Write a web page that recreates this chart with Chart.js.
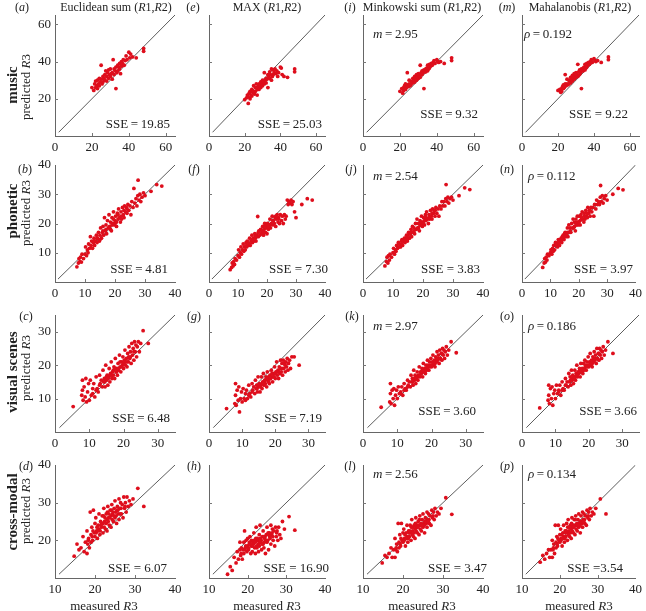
<!DOCTYPE html>
<html>
<head>
<meta charset="utf-8">
<script src="https://cdn.jsdelivr.net/npm/chart.js@4/dist/chart.umd.min.js"></script>
<style>
  body { margin: 0; background: #fff; }
  #wrap { position: relative; width: 646px; height: 611px; overflow: hidden;
          font-family: 'Liberation Serif', 'Times New Roman', serif; color: #222; }
  #wrap canvas { position: absolute; left: 0; top: 0; }
  .t { position: absolute; white-space: nowrap; font-size: 12px; line-height: 1; }
  .big { font-size: 15px; font-weight: bold; }
  .tick { font-size: 13px; }
</style>
</head>
<body>
<div id="wrap"></div>
<script>
// ---- labels ----
var rowNames = ['music', 'phonetic', 'visual scenes', 'cross-modal'];
var modelNames = ['Euclidean sum', 'MAX', 'Minkowski sum', 'Mahalanobis'];
var letters = [['a', 'e', 'i', 'm'], ['b', 'f', 'j', 'n'], ['c', 'g', 'k', 'o'], ['d', 'h', 'l', 'p']];
var sseValues = [['19.85', '25.03', '9.32', '9.22'],
                 ['4.81', '7.30', '3.83', '3.97'],
                 ['6.48', '7.19', '3.60', '3.66'],
                 ['6.07', '16.90', '3.47', '3.54']];
var mValues = ['2.95', '2.54', '2.97', '2.56'];
var rhoValues = ['0.192', '0.112', '0.186', '0.134'];

// ---- axes ----
var axisRange = [[0, 65], [0, 40], [0, 35], [10, 40]];
var xTicks = [[0, 20, 40, 60], [0, 10, 20, 30, 40], [0, 10, 20, 30], [10, 20, 30, 40]];
var yTicks = [[20, 40, 60], [10, 20, 30, 40], [10, 20, 30], [20, 30, 40]];
var diagonal = [[2, 65], [1, 40], [1.3, 35], [11, 40]];

// ---- music ----
var musicX = [20, 21, 21.5, 22, 22, 22.5, 23, 23, 23.5, 24,
  24, 24.5, 25, 25, 25.5, 26, 26, 26.5, 27, 27,
  27.5, 28, 28, 28.5, 29, 29, 29.5, 30, 30, 30.5,
  31, 31, 31.5, 32, 32, 32.5, 33, 33, 33.5, 34,
  34, 34.5, 35, 35, 35.5, 36, 36, 36.5, 37, 37.5,
  38, 38.5, 39, 40, 40.5, 41, 42, 44, 48, 48];
var musicEuclid = [26, 24.5, 28, 26, 29.5, 27, 25.5, 30, 28, 31,
  27, 29, 38, 30.5, 28, 32, 29, 31, 33, 30,
  35, 32, 29.5, 34, 31, 35.5, 33, 36, 32, 33.5,
  34, 30.5, 41, 36, 33, 35, 37, 25.5, 34, 38,
  35, 37, 39, 36, 33.5, 40, 37.5, 39, 41, 38,
  40.5, 43, 41, 45, 42, 44, 42.5, 42, 47, 45.5];
var musicMax = [19.5, 20.5, 22, 17.5, 21, 23, 20, 24, 22, 25,
  21.5, 23.5, 27, 24, 22.5, 26, 24, 28, 25, 22,
  26.5, 28, 25, 27, 29, 26, 28, 27, 30, 29,
  34, 28, 30, 31, 28.5, 30.5, 33, 26, 32, 34.5,
  31, 33, 36, 30, 32, 35.5, 33, 34, 36, 33.5,
  35, 32, 34, 37, 36.5, 33, 32, 31.5, 36, 34.5];
var musicMinkowski = [24, 25.5, 23, 26, 24.5, 27, 25, 28, 26, 34,
  27.5, 26.5, 30, 28, 27, 29.5, 27.5, 29, 31, 28.5,
  30, 32, 29, 31, 33, 30, 32, 33.5, 31, 32.5,
  38, 31.5, 34, 35, 33, 34, 35.5, 25.5, 34.5, 36,
  34.5, 36.5, 38, 35, 36, 38.5, 36.5, 37.5, 39, 38,
  39.5, 40.5, 39, 41, 40, 39.5, 40, 39, 42, 40.5];
var musicMahal = [24.5, 25, 23.5, 25.5, 24, 26.5, 25.5, 27.5, 26, 33,
  28, 27, 30.5, 28, 27.5, 30, 28, 29.5, 31.5, 28.5,
  30.5, 32.5, 29.5, 31, 33.5, 30.5, 32, 34, 31.5, 33,
  38.5, 32, 34.5, 35.5, 33, 34, 36, 25.5, 35, 36.5,
  35, 37, 38.5, 35.5, 36.5, 39, 37, 38, 39.5, 38.5,
  40, 41, 39.5, 41.5, 40.5, 40, 40.5, 39.5, 42.5, 41];

// ---- phonetic ----
var phoneticX = [7.3, 7.8, 8, 8.3, 8.5, 8.8, 9, 9.5, 10, 10.2,
  10.5, 10.8, 11, 11.2, 11.5, 11.8, 12, 12.2, 12.5, 12.8,
  13, 13.2, 13.5, 13.8, 14, 14.2, 14.5, 14.8, 15, 15.2,
  15.5, 15.8, 16, 16.2, 16.5, 16.8, 17, 17.2, 17.5, 17.8,
  18, 18.2, 18.5, 18.8, 19, 19.2, 19.5, 19.8, 20, 20.2,
  20.5, 20.8, 21, 21.2, 21.5, 21.8, 22, 22.2, 22.5, 22.8,
  23, 23.2, 23.5, 23.8, 24, 24.3, 24.6, 25, 25.3, 25.6,
  26, 26.3, 26.6, 27, 27.3, 27.6, 28, 28.3, 28.6, 29,
  29.5, 30, 19.5, 20, 21, 18.5, 16, 14, 22, 24,
  20.5, 17, 13, 15, 19, 23, 27.7, 32, 33.9, 35.6];
var phoneticEuclid = [5.2, 6.5, 8, 7, 8.5, 6.8, 9.5, 8, 9.5, 12,
  9, 11, 10, 13, 11.5, 15.5, 12.5, 14, 11.5, 13.5,
  15, 12.5, 14, 16, 13.5, 15, 17, 14, 16, 18.5,
  15, 17, 19, 16, 22, 17.5, 19.5, 16.5, 21, 18.5,
  23, 19, 20.5, 17.5, 22, 20, 24, 19.5, 21, 22.5,
  19, 23.5, 21.5, 25, 22, 20.5, 24, 21.5, 25.5, 23,
  22, 26, 24, 25.5, 23.5, 26.5, 24.5, 26, 23, 27.5,
  25.5, 32, 27, 28.5, 26, 29.5, 28, 30, 27.5, 29,
  30.5, 29.5, 21.5, 20, 23, 18, 17.5, 15, 22.5, 25,
  20.5, 18, 14, 14.5, 19.5, 24.5, 34.8, 31, 33.3, 32.8];
var phoneticMax = [4.2, 5, 6.5, 5.5, 7, 6, 8, 7.5, 9, 11,
  8.5, 10, 12, 9.5, 11, 13, 10.5, 12, 11, 13.5,
  12, 14, 12.5, 13, 15, 12.5, 14, 16, 13.5, 15,
  14, 16.5, 15, 14, 16, 22.4, 15.5, 17.5, 16, 18,
  16.5, 17.5, 19, 16, 18, 20, 17, 18.5, 16.5, 20,
  18, 19.5, 21.5, 18.5, 20, 22.5, 19.5, 21, 20, 22,
  19, 21.5, 23, 20.5, 22, 20, 23, 21, 22.5, 20,
  23, 21.5, 22.5, 28, 26.5, 27.5, 27, 28, 26.5, 27.5,
  24, 22, 19, 19.5, 19.5, 17.5, 15.5, 13, 21, 21.5,
  19, 17, 12.5, 14.5, 17, 22.5, 27, 26.5, 28.5, 28];
var phoneticMinkowski = [5.5, 7, 8.5, 6.5, 9, 7.5, 9.5, 8.5, 10, 11.5,
  9.5, 11, 10.5, 12.5, 11.5, 13.5, 12, 13, 12, 14,
  14.5, 12.5, 14, 15, 13.5, 15, 16, 14, 16, 17,
  15, 16.5, 18, 15.5, 19, 17, 18.5, 16.5, 20, 18,
  21.5, 18.5, 20, 17.5, 21, 19.5, 22.5, 19, 20.5, 22,
  19.5, 23, 21, 24, 21.5, 20, 23, 21.5, 24.5, 22.5,
  21.5, 25, 23.5, 24.5, 22.5, 25.5, 23.5, 25, 22.5, 26,
  25, 27.5, 26, 27.5, 26, 28.5, 27.5, 29, 27, 28.5,
  29, 28, 20.5, 20, 22, 18.5, 17, 14.5, 22, 24.5,
  21, 17.5, 13, 15, 19.5, 23.5, 33.3, 29.5, 32.2, 31.6];
var phoneticMahal = [5, 6.5, 8, 6.8, 8.5, 7.5, 9.5, 9, 10, 11,
  9.5, 11.5, 10.5, 12.5, 11, 13.5, 12.5, 13, 12, 14.5,
  14, 12.5, 14.5, 15, 13.5, 15.5, 16, 14.5, 16.5, 17,
  15.5, 16.5, 18.5, 15.5, 19.5, 17, 18.5, 17, 20, 18.5,
  21.5, 18.5, 20.5, 17.5, 21.5, 19.5, 22.5, 19.5, 20.5, 22.5,
  19.5, 23, 21.5, 24, 21.5, 20.5, 23.5, 21.5, 24.5, 22.5,
  22, 25.5, 23.5, 24.5, 22.5, 25.5, 24, 25.5, 22.5, 26.5,
  25, 28, 26.5, 27.5, 26.5, 29, 27.5, 29.5, 27, 28.5,
  29.5, 28, 20.5, 20.5, 22, 19, 17, 14.5, 22.5, 24.5,
  21, 17.5, 13.5, 15.5, 20, 23.5, 33, 30, 32, 31.5];

// ---- visual scenes ----
var visualX = [5.3, 7.8, 8, 8, 8.2, 8.5, 8.8, 9, 9.2, 9.5,
  9.8, 10, 10.3, 10.6, 11, 11.3, 11.6, 12, 12.3, 12.6,
  13, 13.2, 13.5, 13.8, 14, 14.2, 14.4, 14.6, 14.8, 15,
  15.2, 15.4, 15.6, 15.8, 16, 16.2, 16.4, 16.6, 16.8, 17,
  17.2, 17.4, 17.6, 17.8, 18, 18.2, 18.4, 18.6, 18.8, 19,
  19.2, 19.4, 19.6, 19.8, 20, 20.2, 20.4, 20.6, 20.8, 21,
  21.2, 21.4, 21.6, 21.8, 22, 22.2, 22.4, 22.6, 22.8, 23,
  23.2, 23.4, 23.6, 23.8, 24, 24.3, 24.6, 25, 25.7, 27.2,
  15, 16, 17, 18, 19, 20, 21, 22, 14.5, 15.5,
  16.5, 17.5, 18.5, 19.5, 20.5, 21.5, 13, 12, 11, 23];
var visualEuclid = [7.6, 11, 15.5, 12.5, 9.5, 13.5, 10.5, 16, 9, 12,
  14.5, 9.5, 15.5, 11, 13, 14.5, 10.5, 16.5, 13, 12,
  17, 14.5, 15.5, 13.5, 18.5, 15, 16, 13.5, 20, 15.5,
  17, 14, 16.5, 19, 15, 17.5, 21, 16, 18, 17,
  19.5, 16, 22, 18, 19, 17, 20.5, 18.5, 23, 19.5,
  18, 21, 20, 22.5, 19, 21.5, 24.5, 20, 22, 19.5,
  23.5, 21, 25.5, 22, 24, 20.5, 26.5, 23, 25, 21.5,
  27, 24, 26, 22.5, 25.5, 27, 24, 26.5, 30.3, 26.5,
  16.5, 17, 18.5, 18, 21, 20.5, 21, 22.5, 15, 16,
  17, 19, 19, 19.5, 21, 22.5, 14, 12.5, 11.5, 24];
var visualMax = [7, 8.5, 14.5, 11, 8, 12.5, 9.5, 13.5, 6, 10,
  12, 9, 13, 10, 11.5, 12.5, 10, 14, 11.5, 10.5,
  14.5, 12.5, 13.5, 11.5, 15.5, 13, 14, 12, 16.5, 13.5,
  14.5, 12, 14, 16.5, 13, 15, 17.5, 14, 15.5, 14.5,
  16.5, 13.5, 18, 15.5, 16.5, 14.5, 17, 16, 18.5, 16.5,
  15, 17.5, 16.5, 19.5, 16, 18, 21, 17, 18.5, 16,
  19.5, 17.5, 21.5, 18, 20.5, 17, 21.5, 19, 20.5, 18,
  21, 19.5, 22, 18.5, 20.5, 21.5, 19, 22.5, 22.5, 20,
  14, 14.5, 15.5, 15, 17.5, 17.5, 18, 19, 13, 13.5,
  14.5, 16, 16, 16.5, 18, 19, 12, 11, 9.5, 20];
var visualMinkowski = [7.4, 9, 14.5, 11.5, 8.5, 12.5, 10, 13, 8, 11,
  12.5, 10, 13.5, 11.5, 12, 13.5, 11, 14.5, 13, 12.5,
  15.5, 14, 15, 13.5, 17, 15, 16, 14, 18.5, 15.5,
  17, 14.5, 16.5, 18, 15.5, 17, 19.5, 16.5, 18, 17.5,
  19, 16.5, 20.5, 18, 19, 17.5, 20, 19, 21.5, 19.5,
  18.5, 21, 20, 22, 19.5, 21, 23, 20, 21.5, 19.5,
  22.5, 21, 24, 21.5, 23, 20.5, 24.5, 22, 23.5, 21.5,
  25, 23, 24.5, 22, 24, 25.5, 23, 24.5, 27, 23.7,
  16, 16.5, 18, 18, 20, 20, 20.5, 22, 15, 16,
  17, 18.5, 18.5, 19.5, 20.5, 22, 13.5, 12.5, 11.5, 23.5];
var visualMahal = [7.2, 9.5, 14, 11, 8.5, 13, 10, 13.5, 8, 11.5,
  12.5, 10, 14, 11.5, 12.5, 14, 11, 15, 13, 12.5,
  16, 14, 15, 13.5, 17.5, 15, 16.5, 14, 18.5, 15.5,
  17, 14.5, 16.5, 18.5, 15.5, 17.5, 20, 16.5, 18, 17.5,
  19, 16.5, 20.5, 18, 19, 17.5, 20.5, 19, 21.5, 19.5,
  18.5, 21, 20, 22.5, 19.5, 21, 23.5, 20, 21.5, 19.5,
  22.5, 21, 24, 21.5, 23, 20.5, 25, 22, 23.5, 21.5,
  25, 23, 24.5, 22, 24, 25.5, 23, 24.5, 27, 23.5,
  16, 16.5, 18, 18, 20, 20, 20.5, 22, 15.5, 16,
  17, 18.5, 18.5, 19.5, 20.5, 22, 14, 12.5, 12, 23.5];

// ---- cross-modal ----
var crossX = [14.8, 15.5, 16, 16.5, 17, 17.3, 17.6, 18, 18, 18.2,
  18.4, 18.6, 18.8, 19, 19, 19.2, 19.4, 19.6, 19.8, 20,
  20, 20.2, 20.4, 20.6, 20.8, 21, 21, 21.2, 21.4, 21.6,
  21.8, 22, 22, 22.2, 22.4, 22.6, 22.8, 23, 23, 23.2,
  23.4, 23.6, 23.8, 24, 24, 24.2, 24.4, 24.6, 24.8, 25,
  25, 25.2, 25.4, 25.6, 25.8, 26, 26, 26.2, 26.4, 26.6,
  26.8, 27, 27.2, 27.4, 27.6, 27.8, 28, 28.3, 28.6, 29,
  29.5, 30.7, 32.2, 19.5, 20.5, 21.5, 22.5, 23.5, 24.5, 25.5,
  26.5, 22.8, 23.3, 24.3, 25.3, 21.3, 20.3, 18.3, 27.5, 24.7,
  23.7, 22.3, 21.7, 25.7, 26.3, 19.3, 20.7, 24.1, 23.1, 22.1];
var crossEuclid = [15.8, 19, 17.5, 18, 21, 17, 19.5, 16.5, 22.5, 19,
  20.5, 18, 27.5, 21.5, 19.5, 23.5, 20, 28, 22, 24.5,
  21, 26, 22.5, 20.5, 24, 23, 27, 21.5, 25, 23.5,
  26.5, 22, 24.5, 28.5, 25, 23, 27, 25.5, 22.5, 29,
  26, 24, 28, 26.5, 23.5, 29.5, 27, 25, 28.5, 26,
  30.5, 27.5, 24.5, 29, 27, 31, 25.5, 28.5, 30, 27,
  29.5, 26, 31.5, 28.5, 30, 27.5, 31.5, 29, 30.5, 29.5,
  31, 33.8, 29, 22.5, 23.5, 24, 26, 27, 27.5, 28,
  28.5, 24.5, 25, 25.5, 26.5, 22.5, 22, 20, 29, 26.5,
  26, 23.5, 24.5, 28, 27, 21, 22.5, 28, 27.5, 26.5];
var crossMax = [11, 13, 12, 15.5, 14, 17, 15, 17.5, 19.5, 16,
  18, 15, 17.5, 19.5, 16.5, 22.5, 18, 20, 17, 18.5,
  20.5, 17.5, 19, 21, 16.5, 18.5, 20, 17, 19.5, 22,
  18, 16.5, 19.5, 23.5, 18, 20, 17, 21.5, 18.5, 24,
  19.5, 17.5, 21, 19, 22.5, 18, 20.5, 16.5, 21.5, 19.5,
  23.5, 20, 17.5, 22, 20.5, 24, 19, 21.5, 23, 20,
  22.5, 18.5, 23.5, 21, 22.5, 20, 23.5, 21.5, 20.5, 25,
  23, 26.3, 22.7, 18.5, 19.5, 19, 20.5, 20, 21, 21.5,
  21, 19, 20.5, 19.5, 22, 18.5, 18, 16.5, 22, 20,
  19, 18.5, 20, 21, 22, 17.5, 19, 21, 19.5, 20.5];
var crossMinkowski = [14, 16, 15.5, 16.5, 18, 15.5, 17.5, 15.5, 20.5, 17.5,
  19, 17, 24.5, 19.5, 18, 21.5, 18.5, 24.5, 20, 22,
  19.5, 23, 20.5, 18.5, 22, 21, 24, 19.5, 22.5, 21,
  24, 20, 22, 25.5, 22.5, 21, 24, 23, 20.5, 26,
  23.5, 22, 25, 24, 21.5, 26.5, 24, 22.5, 25.5, 23.5,
  27, 24.5, 22, 26, 24.5, 27.5, 23.5, 25.5, 27, 24.5,
  26.5, 24, 28, 26, 27.5, 25.5, 28.5, 26.5, 27.5, 27,
  28.5, 31.3, 26.9, 20.5, 21.5, 22, 23.5, 24, 24.5, 25,
  25.5, 22, 22.5, 23, 24, 20.5, 20, 18, 26.5, 24,
  23.5, 21.5, 22.5, 25, 25, 19, 20.5, 25.5, 24.5, 23.5];
var crossMahal = [14.2, 16, 15, 16.5, 17.5, 15.5, 17.5, 15.5, 20, 17.5,
  19, 16.5, 24, 19.5, 18, 21, 18.5, 24, 20, 21.5,
  19.5, 23, 20.5, 18.5, 22, 21, 24, 19.5, 22.5, 21,
  24.5, 20, 22, 25.5, 22.5, 21, 24, 23, 20.5, 26,
  23.5, 22, 25.5, 24, 21.5, 26.5, 24, 22.5, 25.5, 23.5,
  27, 24.5, 22, 26.5, 24.5, 27.5, 23.5, 25.5, 27, 24.5,
  26.5, 24, 28, 26, 27.5, 25.5, 28.5, 26.5, 27.5, 27,
  28.5, 31, 27, 20.5, 21.5, 22, 23.5, 24, 24.5, 25,
  25.5, 22, 22.5, 23, 24, 20.5, 20, 18, 26.5, 24,
  23.5, 21.5, 22.5, 25, 25, 19, 20.5, 25.5, 24.5, 23.5];

var measured = [musicX, phoneticX, visualX, crossX];
var predicted = [[musicEuclid, musicMax, musicMinkowski, musicMahal],
                 [phoneticEuclid, phoneticMax, phoneticMinkowski, phoneticMahal],
                 [visualEuclid, visualMax, visualMinkowski, visualMahal],
                 [crossEuclid, crossMax, crossMinkowski, crossMahal]];

// ---- layout (pixels) ----
var W = 646, H = 611, YW = 34, XH = 22;
var colL = [55, 209, 363, 522], colR = [175, 325, 483, 639];
var rowT = [15, 165, 315, 465], rowB = [136, 282, 432, 578];
var sseAt = [[[170, 123], [322, 123], [478, 113], [628, 113]],
             [[168, 268], [328, 268], [480, 268], [633, 268]],
             [[170, 417], [322, 417], [476, 410], [637, 410]],
             [[167, 567], [329, 567], [487, 567], [623, 567]]];
var noteY = [33, 175, 325, 473];
var tight = [[1, 1, 1, 0], [1, 0, 0, 0], [1, 1, 1, 1], [0, 0, 0, 0]];

var RED = 'rgb(222,14,28)';
var FONT = "'Liberation Serif', 'Times New Roman', serif";
var wrap = document.getElementById('wrap');

function addText(html, x, y, cls, tf) {
  var d = document.createElement('div');
  d.className = 't ' + (cls || '');
  d.innerHTML = html;
  d.style.left = x + 'px';
  d.style.top = y + 'px';
  d.style.transform = tf || 'translate(-50%,-50%)';
  wrap.appendChild(d);
}

// small inward tick marks, like the original
var tickMarks = {
  id: 'tickMarks',
  afterDraw: function (chart) {
    var ctx = chart.ctx, a = chart.chartArea;
    var xs = chart.scales.x, ys = chart.scales.y;
    ctx.save();
    ctx.strokeStyle = '#777';
    ctx.lineWidth = 1;
    ctx.beginPath();
    ys.ticks.forEach(function (t) {
      var y = Math.round(ys.getPixelForValue(t.value)) + 0.5;
      if (y > a.bottom - 2 || y < a.top + 2) return;
      ctx.moveTo(a.left, y); ctx.lineTo(a.left + 3, y);
    });
    xs.ticks.forEach(function (t) {
      var x = Math.round(xs.getPixelForValue(t.value)) + 0.5;
      if (x < a.left + 2 || x > a.right - 2) return;
      ctx.moveTo(x, a.bottom); ctx.lineTo(x, a.bottom - 3);
    });
    ctx.stroke();
    ctx.restore();
  }
};

function makePanel(r, c) {
  var cv = document.createElement('canvas');
  cv.width = W; cv.height = H;
  wrap.appendChild(cv);
  var xs = measured[r], ys = predicted[r][c];
  var pts = xs.map(function (x, i) { return { x: x, y: ys[i] }; });
  var diag = diagonal[r].map(function (v) { return { x: v, y: v }; });
  var rng = axisRange[r];
  new Chart(cv, {
    type: 'scatter',
    data: {
      datasets: [{
        data: pts,
        pointRadius: 1.9,
        pointBorderWidth: 0,
        pointBackgroundColor: RED,
        backgroundColor: RED
      }, {
        type: 'line',
        data: diag,
        borderColor: '#333',
        borderWidth: 0.8,
        pointRadius: 0,
        fill: false
      }]
    },
    options: {
      responsive: false,
      animation: false,
      devicePixelRatio: 1,
      layout: { padding: { left: colL[c] - YW, right: W - colR[c], top: rowT[r], bottom: H - rowB[r] - XH } },
      plugins: { legend: { display: false }, tooltip: { enabled: false } },
      scales: {
        x: {
          type: 'linear', min: rng[0], max: rng[1],
          afterBuildTicks: function (s) { s.ticks = xTicks[r].map(function (v) { return { value: v }; }); },
          afterFit: function (s) { s.height = XH; },
          grid: { display: false, drawTicks: false },
          border: { color: '#666', width: 1 },
          ticks: { color: '#222', font: { family: FONT, size: 13 }, padding: 4, maxRotation: 0, autoSkip: false }
        },
        y: {
          type: 'linear', min: rng[0], max: rng[1],
          afterBuildTicks: function (s) { s.ticks = yTicks[r].map(function (v) { return { value: v }; }); },
          afterFit: function (s) { s.width = YW; },
          grid: { display: false, drawTicks: false },
          border: { color: '#666', width: 1 },
          ticks: { display: c === 0, color: '#222', font: { family: FONT, size: 13 }, padding: 4, autoSkip: false }
        }
      }
    },
    plugins: [tickMarks]
  });

  // annotations
  var sp = tight[r][c] ? '\u2009' : ' ';
  var sse = 'SSE' + sp + '=' + (r === 3 && c === 3 ? '' : sp) + sseValues[r][c];
  addText(sse, sseAt[r][c][0], sseAt[r][c][1], 'tick', 'translate(-100%,-50%)');
  if (c === 2) addText('<i>m</i>\u2009=\u2009' + mValues[r], 373, noteY[r], 'tick', 'translate(0,-50%)');
  if (c === 3) addText('<i>\u03c1</i>\u2009=\u2009' + rhoValues[r], r === 0 ? 524 : 528, noteY[r], 'tick', 'translate(0,-50%)');
}

for (var r = 0; r < 4; r++) {
  for (var c = 0; c < 4; c++) makePanel(r, c);
}

// column headers and panel letters
var titleX = [116, 267, 422, 580];
var letterX = [[22, 193, 350, 507], [25, 194, 351, 507], [26, 194, 352, 507], [26, 194, 350, 507]];
var letterY = [7, 169, 316, 466];
for (var c = 0; c < 4; c++) {
  addText(modelNames[c] + ' (<i>R</i>1,<i>R</i>2)', titleX[c], 7);
  for (var r = 0; r < 4; r++) addText('(<i>' + letters[r][c] + '</i>)', letterX[r][c], letterY[r]);
}

// row labels
var rowLabelY = [85, 211, 372, 512];
var rowSubY = [87, 213, 368, 511];
for (var r = 0; r < 4; r++) {
  addText(rowNames[r], 12, rowLabelY[r], 'big', 'translate(-50%,-50%) rotate(-90deg)');
  addText('predicted <i>R</i>3', 25, rowSubY[r], 'tick', 'translate(-50%,-50%) rotate(-90deg)');
}

// x-axis titles
var xTitleX = [104, 267, 422, 579];
for (var c = 0; c < 4; c++) addText('measured <i>R</i>3', xTitleX[c], 605, 'tick');
</script>
</body>
</html>
